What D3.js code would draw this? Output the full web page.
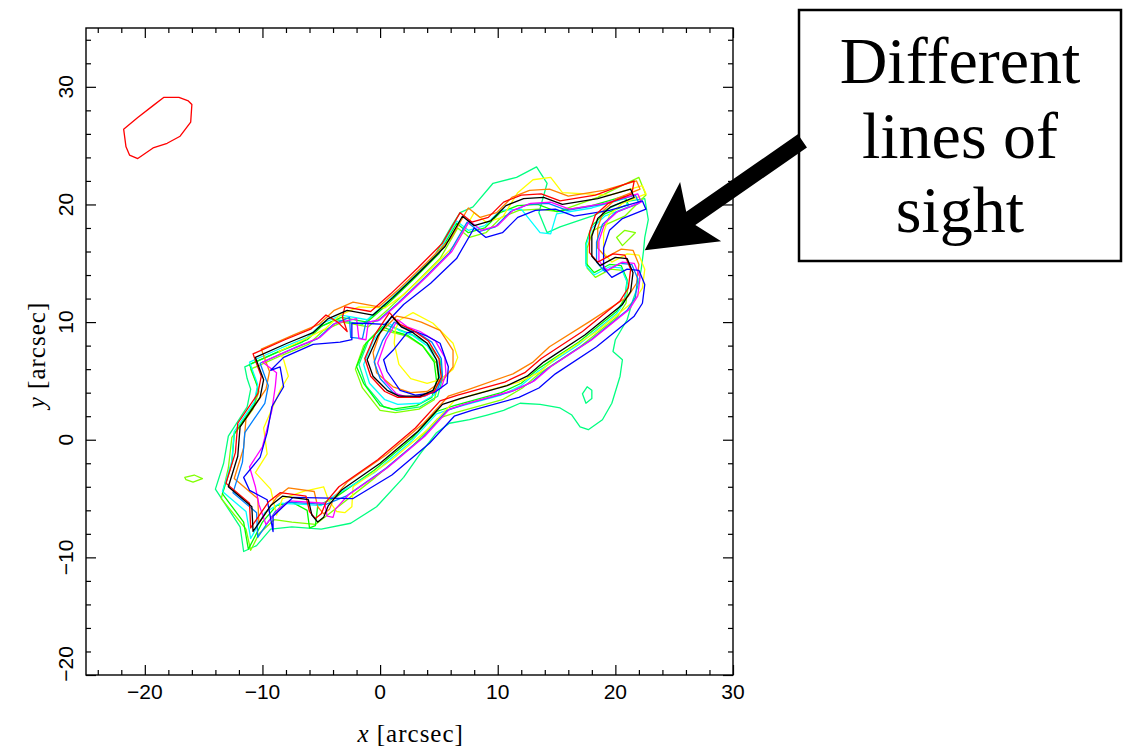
<!DOCTYPE html>
<html>
<head>
<meta charset="utf-8">
<script src="https://cdn.jsdelivr.net/npm/d3@7"></script>
<style>
  body { margin: 0; background: #fff; }
  svg { display: block; }
</style>
</head>
<body>
<svg id="chart" width="1127" height="746"></svg>
<script>
// axis ticks (arcsec)
const xMajorTicks = [-20, -10, 0, 10, 20, 30];
const yMajorTicks = [-20, -10, 0, 10, 20, 30];
const xMinorTicks = [-24, -22, -18, -16, -14, -12, -8, -6, -4, -2, 2, 4, 6, 8, 12, 14, 16, 18, 22, 24, 26, 28];
const yMinorTicks = [-18, -16, -14, -12, -8, -6, -4, -2, 2, 4, 6, 8, 12, 14, 16, 18, 22, 24, 26, 28, 32, 34];

// contours, one per line of sight: [x, y] in arcsec
const blackMain = [[-10.6,7.0],[-7.9,8.2],[-5.7,9.1],[-4.4,10.3],[-2.8,11.0],[-0.6,10.6],[1.1,12.1],[3.4,14.3],[5.5,16.4],[7.0,19.0],[8.0,18.2],[9.4,18.6],[10.7,19.9],[12.2,20.5],[13.9,20.6],[15.5,20.0],[18.5,20.5],[21.3,21.3],[21.6,20.6],[19.6,19.8],[18.5,18.8],[18.0,17.3],[18.0,15.6],[18.7,14.8],[20.0,15.5],[21.0,15.4],[21.5,14.2],[21.3,12.6],[20.6,11.5],[17.4,8.9],[13.9,6.6],[12.5,5.4],[10.8,4.6],[6.8,3.5],[5.3,3.0],[3.2,0.7],[0.0,-2.0],[-3.3,-4.3],[-4.4,-5.6],[-4.8,-6.6],[-5.3,-7.0],[-5.8,-6.4],[-6.1,-5.1],[-8.3,-4.8],[-9.3,-5.6],[-10.8,-7.8],[-10.9,-5.7],[-12.9,-4.0],[-12.1,-1.4],[-11.9,1.1],[-10.2,3.6],[-9.9,5.1],[-10.2,5.9]];
const blackInner = [[1.0,10.5],[-0.2,8.8],[-1.1,6.8],[-0.6,5.4],[0.6,4.2],[1.6,3.7],[3.4,3.7],[4.5,4.2],[5.0,5.3],[4.8,6.8],[4.0,8.2],[2.8,9.1],[1.8,9.6]];

const redMain = [[-10.8,7.3],[-8.1,8.5],[-5.9,9.4],[-4.6,10.6],[-3.6,10.0],[-2.8,9.2],[-3.2,10.4],[-3.0,11.3],[-0.8,10.9],[0.9,12.4],[3.2,14.6],[5.3,16.7],[6.8,19.3],[7.8,18.5],[9.2,18.9],[10.5,20.2],[12.0,20.8],[13.7,20.9],[15.3,20.3],[18.3,20.8],[21.6,22.0],[21.4,20.9],[19.4,20.1],[18.3,19.1],[17.8,17.6],[17.8,15.9],[18.5,15.1],[19.8,15.8],[20.8,15.7],[21.3,14.5],[21.1,12.9],[20.4,11.8],[17.2,9.2],[13.7,6.9],[12.3,5.7],[10.6,4.9],[6.6,3.8],[5.1,3.3],[3.0,1.0],[-0.2,-1.7],[-3.5,-4.0],[-4.6,-5.3],[-5.0,-6.3],[-5.5,-6.7],[-6.0,-6.1],[-6.3,-4.8],[-8.5,-4.5],[-9.5,-5.3],[-11.0,-7.5],[-11.1,-5.4],[-13.1,-3.7],[-12.3,-1.1],[-12.1,1.4],[-10.4,3.9],[-10.1,5.4],[-10.4,6.2]];
const redInner = [[0.8,10.8],[-0.4,9.0],[-1.3,6.9],[-0.8,5.4],[0.4,4.1],[1.5,3.6],[3.4,3.6],[4.6,4.1],[5.2,5.3],[5.0,6.9],[4.1,8.4],[2.8,9.3],[1.7,9.8]];

const orangeMain = [[-10.1,7.7],[-7.4,8.9],[-5.2,9.8],[-3.9,11.0],[-2.3,11.7],[-0.1,11.3],[1.6,12.8],[3.9,15.0],[6.0,17.1],[7.5,19.7],[8.5,18.9],[9.9,19.3],[11.2,20.6],[12.7,21.2],[14.4,21.3],[16.0,20.7],[19.0,21.2],[21.8,22.0],[22.1,21.3],[20.1,20.5],[19.0,19.5],[18.5,18.0],[18.5,16.3],[19.2,15.5],[20.5,16.2],[21.5,16.1],[22.0,14.9],[21.8,13.3],[21.1,12.2],[17.9,10.1],[14.4,7.9],[13.0,6.6],[11.3,5.6],[7.3,4.2],[5.8,3.7],[3.7,1.4],[0.5,-1.3],[-2.8,-3.6],[-3.9,-4.9],[-4.3,-5.9],[-4.8,-6.3],[-5.3,-5.7],[-5.6,-4.4],[-7.8,-4.1],[-8.8,-4.9],[-10.3,-7.1],[-10.4,-5.0],[-12.4,-3.3],[-11.6,-0.7],[-11.4,1.8],[-9.7,4.3],[-9.4,5.8],[-9.7,6.6]];
const orangeInner = [[1.4,10.5],[0.0,9.1],[-0.6,7.4],[-0.3,5.7],[1.1,4.5],[2.6,4.0],[4.0,4.1],[5.4,5.1],[6.2,6.2],[6.2,7.6],[5.1,9.3],[3.5,10.0],[2.5,10.3]];

const yellowMain = [[-8.6,7.5],[-6.5,8.5],[-4.7,9.4],[-3.4,10.6],[-1.8,11.3],[0.4,11.2],[2.1,12.4],[4.4,14.6],[6.5,16.7],[8.0,19.3],[9.0,18.5],[10.4,18.9],[11.7,21.0],[13.0,22.1],[14.5,22.3],[15.5,21.0],[19.5,20.8],[22.3,21.6],[22.6,20.9],[20.6,20.1],[19.5,19.1],[19.0,17.6],[19.0,15.9],[19.7,15.1],[21.0,15.8],[22.0,15.7],[22.5,14.5],[22.3,12.9],[21.6,11.8],[18.4,9.2],[14.9,6.9],[13.5,5.7],[11.8,4.9],[7.8,3.8],[6.3,3.3],[4.2,1.0],[1.0,-1.7],[-2.3,-4.0],[-2.4,-5.7],[-3.0,-6.2],[-3.7,-6.1],[-4.4,-5.1],[-4.8,-4.0],[-6.5,-4.4],[-8.3,-5.0],[-8.8,-6.4],[-9.3,-4.2],[-10.6,-2.8],[-9.6,-1.2],[-9.9,1.0],[-8.5,4.2],[-7.8,5.4],[-8.2,6.8]];
const yellowInner = [[1.7,10.2],[2.8,10.8],[4.5,9.9],[6.2,8.2],[6.6,7.0],[6.2,6.0],[5.1,5.1],[4.0,4.8],[2.6,5.2],[1.6,6.4],[1.2,8.2],[1.3,9.4]];

const greenMain = [[-11.1,6.4],[-8.4,7.6],[-6.2,8.5],[-4.9,9.7],[-3.3,10.4],[-1.1,10.0],[0.6,11.5],[2.9,13.7],[5.0,15.8],[6.5,18.4],[7.5,17.6],[8.9,18.0],[10.2,19.3],[11.7,19.9],[13.4,20.0],[15.0,19.4],[18.0,19.9],[20.8,20.7],[21.1,20.0],[19.1,19.2],[18.0,18.2],[17.5,16.7],[17.5,15.0],[18.2,14.2],[19.5,14.9],[20.5,14.8],[21.0,13.6],[20.8,12.0],[20.1,10.9],[16.9,8.3],[13.4,6.0],[12.0,4.8],[10.3,4.0],[6.3,2.9],[4.8,2.4],[2.7,0.1],[-0.5,-2.6],[-3.8,-4.9],[-5.3,-5.6],[-5.5,-7.3],[-6.0,-7.5],[-6.2,-6.0],[-7.5,-5.3],[-8.8,-5.6],[-10.0,-7.0],[-11.2,-9.3],[-11.6,-7.0],[-13.4,-4.6],[-12.6,-2.0],[-12.4,0.5],[-10.7,3.0],[-10.4,4.5],[-10.7,5.3]];
const greenInner = [[0.2,9.6],[-1.2,8.2],[-2.0,6.2],[-1.4,4.8],[0.0,2.9],[1.1,2.6],[3.1,2.9],[4.4,3.6],[4.8,5.0],[4.6,6.6],[3.6,8.0],[2.3,8.9],[1.2,9.2]];

const chartreuseMain = [[-11.0,6.0],[-8.3,7.2],[-6.1,8.1],[-4.8,9.3],[-3.2,10.0],[-1.0,9.6],[0.7,11.1],[3.0,13.3],[5.1,15.4],[6.6,18.0],[7.6,17.2],[9.0,17.6],[10.3,18.9],[11.8,19.5],[13.5,19.6],[15.1,19.4],[18.5,20.6],[22.0,22.3],[22.6,20.8],[20.8,19.0],[18.1,17.8],[17.6,16.3],[17.6,14.6],[18.3,13.8],[19.6,14.5],[20.6,14.4],[21.1,13.2],[20.9,11.6],[20.2,10.5],[17.0,7.9],[13.5,5.6],[12.1,4.4],[10.4,3.4],[6.4,2.3],[4.9,1.8],[2.8,-0.5],[-0.4,-3.2],[-3.7,-5.8],[-5.5,-7.2],[-7.5,-7.0],[-9.0,-6.8],[-10.3,-8.0],[-11.0,-9.4],[-11.4,-7.6],[-13.5,-5.0],[-12.9,-2.4],[-12.6,0.2],[-10.8,2.6],[-10.3,4.1],[-10.6,5.0]];
const chartreuseInner = [[0.0,9.4],[-1.4,8.0],[-2.1,6.0],[-1.5,4.4],[0.0,2.5],[1.3,2.3],[3.3,2.6],[4.6,3.4],[5.0,4.9],[4.8,6.5],[3.7,7.9],[2.3,8.8],[1.1,9.1]];
const chartreuseHook = [[20.1,17.2],[20.8,17.8],[21.7,17.6],[20.6,16.5]];
const chartreuseSpeck = [[-16.6,-3.2],[-15.8,-3.0],[-15.1,-3.3],[-15.9,-3.6],[-16.5,-3.4]];

const springMain = [[-11.5,6.2],[-8.8,7.4],[-6.6,8.3],[-5.3,9.5],[-3.7,10.2],[-1.5,9.8],[0.2,11.3],[2.5,13.5],[4.6,15.6],[6.1,18.2],[6.8,19.3],[7.9,19.8],[9.6,21.8],[11.6,22.3],[13.3,23.2],[14.2,21.8],[13.5,19.3],[14.2,17.6],[15.3,18.1],[18.0,19.0],[20.6,20.2],[22.5,20.5],[22.8,18.7],[22.5,17.2],[22.4,16.1],[22.2,14.5],[21.9,13.0],[21.5,11.9],[21.0,10.2],[20.0,8.5],[19.8,7.5],[20.6,6.8],[20.4,5.4],[19.7,3.1],[18.9,1.7],[17.7,0.85],[17.0,1.1],[16.3,2.1],[15.3,2.7],[13.6,3.0],[11.9,3.1],[10.5,2.5],[9.1,2.1],[7.6,1.7],[5.9,1.4],[4.8,0.6],[3.4,-1.2],[2.0,-3.2],[-0.3,-5.7],[-2.5,-7.1],[-5.0,-7.6],[-7.5,-7.4],[-9.3,-7.6],[-10.5,-9.0],[-11.6,-9.5],[-11.9,-7.4],[-14.0,-4.2],[-13.3,-2.0],[-12.9,0.3],[-11.3,2.8],[-11.0,4.3],[-11.3,5.2]];
const springInner = [[0.4,9.8],[-1.0,8.4],[-1.8,6.4],[-1.2,4.6],[0.3,2.8],[1.4,2.5],[3.4,2.8],[4.9,3.7],[5.3,5.2],[5.1,6.8],[4.0,8.2],[2.6,9.0],[1.5,9.4]];
const springRing = [[17.6,4.5],[17.2,3.9],[17.5,3.1],[18.0,3.5],[18.0,4.2]];

const cyanMain = [[-11.1,6.6],[-8.4,7.8],[-6.2,8.7],[-4.9,9.9],[-3.3,10.6],[-1.1,10.2],[0.6,11.7],[2.9,13.9],[5.0,16.0],[6.5,18.6],[7.5,17.8],[8.9,18.2],[10.2,19.5],[12.0,19.6],[13.6,17.6],[14.5,17.5],[15.0,19.2],[18.0,19.7],[20.8,20.5],[21.1,19.8],[19.1,19.0],[18.0,18.0],[17.5,16.5],[17.5,14.8],[18.2,14.0],[19.5,14.7],[20.5,14.6],[21.0,13.4],[20.8,11.8],[20.1,10.7],[16.9,8.1],[13.4,5.8],[12.0,4.6],[10.3,3.8],[6.3,2.7],[4.8,2.2],[2.7,-0.1],[-0.5,-2.8],[-3.8,-4.7],[-5.0,-5.6],[-6.5,-5.5],[-8.5,-5.4],[-9.8,-6.2],[-11.0,-8.4],[-11.4,-6.1],[-13.4,-4.4],[-12.6,-1.8],[-12.4,0.7],[-10.7,3.2],[-10.4,4.7],[-10.7,5.5]];
const cyanInner = [[0.6,10.0],[-0.6,8.4],[-1.4,6.4],[-0.9,4.8],[0.4,3.4],[1.5,3.0],[3.4,3.1],[4.6,3.8],[5.1,5.0],[4.9,6.6],[4.0,8.0],[2.7,8.9],[1.6,9.3]];

const azureMain = [[-10.2,6.5],[-7.5,7.7],[-5.3,8.6],[-4.0,9.8],[-2.6,10.4],[-2.5,8.7],[-1.5,8.6],[-1.2,10.0],[-0.2,10.1],[1.5,11.6],[3.8,13.8],[5.9,15.9],[7.4,18.5],[8.4,17.7],[9.8,18.1],[11.1,19.4],[12.6,20.0],[14.3,20.1],[15.9,19.5],[18.9,20.0],[21.7,20.8],[22.0,20.1],[20.0,19.3],[18.9,18.3],[18.4,16.8],[18.4,15.1],[19.1,14.3],[20.4,15.0],[21.4,14.9],[21.9,13.7],[21.7,12.1],[21.0,11.0],[17.8,8.4],[14.3,6.1],[12.9,4.9],[11.2,4.1],[7.2,3.0],[5.7,2.5],[3.6,0.2],[0.4,-2.5],[-2.9,-4.8],[-4.6,-5.5],[-7.9,-5.3],[-8.9,-6.1],[-10.4,-8.3],[-10.5,-6.2],[-12.5,-4.5],[-11.7,-1.9],[-11.5,0.6],[-9.8,3.1],[-9.5,4.6],[-9.8,5.4]];
const azureInner = [[1.2,10.0],[0.2,8.4],[-0.5,6.6],[0.0,5.2],[1.1,4.0],[2.1,3.6],[3.8,3.7],[4.9,4.3],[5.3,5.4],[5.2,6.9],[4.4,8.3],[3.2,9.1],[2.1,9.5]];

const magentaMain = [[-10.0,6.6],[-7.3,7.8],[-5.1,8.7],[-3.8,9.9],[-2.0,10.3],[-1.8,8.6],[-1.2,8.5],[-1.0,10.0],[0.0,10.2],[1.7,11.7],[4.0,13.9],[6.1,16.0],[7.6,18.6],[8.6,17.8],[10.0,18.2],[11.3,19.5],[12.8,20.1],[14.5,20.2],[16.1,19.6],[19.1,20.1],[21.9,20.9],[22.2,20.2],[20.2,19.4],[19.1,18.4],[18.6,16.9],[18.6,15.2],[19.3,14.4],[20.6,15.1],[21.6,15.0],[22.1,13.8],[21.9,12.2],[21.2,11.1],[18.0,8.5],[14.5,6.2],[13.1,5.0],[11.4,4.2],[7.4,3.1],[5.9,2.6],[3.8,0.3],[0.6,-2.4],[-2.7,-4.7],[-3.8,-5.9],[-4.0,-6.6],[-4.5,-6.5],[-4.7,-5.4],[-7.7,-5.2],[-8.7,-6.0],[-9.7,-7.2],[-10.3,-5.5],[-10.6,-4.0],[-11.1,-2.3],[-10.0,-0.6],[-9.2,2.5],[-8.9,4.6],[-8.8,5.7]];
const magentaInner = [[1.5,10.2],[0.5,8.5],[-0.2,6.5],[0.4,5.0],[1.4,3.9],[2.4,3.6],[4.0,3.8],[5.2,4.4],[5.6,5.6],[5.5,7.0],[4.7,8.4],[3.4,9.2],[2.3,9.6]];

const blueMain = [[-9.3,5.9],[-8.2,7.0],[-5.7,8.1],[-3.4,8.3],[-2.4,8.5],[-2.4,9.9],[-1.4,9.9],[0.4,9.8],[2.0,11.5],[4.3,13.3],[6.5,15.4],[8.0,18.0],[9.0,17.2],[10.4,17.6],[11.7,18.9],[13.2,19.5],[14.9,19.6],[16.5,19.0],[19.5,19.5],[22.3,20.3],[22.6,19.6],[20.6,18.8],[19.5,17.8],[19.0,16.3],[19.0,14.6],[19.7,13.8],[21.0,14.5],[22.0,14.4],[22.5,13.2],[22.3,11.6],[21.6,10.5],[18.4,7.9],[14.9,5.6],[13.5,4.4],[11.8,3.6],[7.8,2.5],[6.3,2.0],[4.2,-0.3],[1.0,-3.0],[-2.3,-5.0],[-7.4,-4.9],[-9.1,-6.5],[-9.1,-7.8],[-9.6,-5.1],[-11.1,-4.3],[-11.6,-3.2],[-10.2,-1.5],[-9.6,0.6],[-9.2,2.8],[-8.2,4.5],[-8.5,6.2]];
const blueInner = [[2.3,9.1],[1.1,7.6],[0.3,6.8],[0.6,5.8],[1.7,4.2],[3.0,3.8],[4.6,4.0],[5.7,4.8],[5.8,6.2],[5.1,8.2],[4.0,8.8],[3.0,9.2]];

// separate blob in the upper left
const redBlob = [[-21.8,26.4],[-20.6,27.4],[-19.3,28.4],[-18.4,29.1],[-17.1,29.1],[-16.3,28.8],[-16.0,28.5],[-16.1,27.0],[-17.0,25.8],[-18.1,25.2],[-19.3,24.8],[-20.6,23.9],[-21.3,24.2],[-21.6,24.9]];

// annotation
const noteLines = ["Different", "lines of", "sight"];
const arrowTail = [35.9, 25.4];
const arrowTip = [22.5, 16.1];

const sightlines = [
  {key: "spring",     rings: [springMain, springInner, springRing]},
  {key: "chartreuse", rings: [chartreuseMain, chartreuseInner, chartreuseHook, chartreuseSpeck]},
  {key: "green",      rings: [greenMain, greenInner]},
  {key: "cyan",       rings: [cyanMain, cyanInner]},
  {key: "yellow",     rings: [yellowMain, yellowInner]},
  {key: "orange",     rings: [orangeMain, orangeInner]},
  {key: "azure",      rings: [azureMain, azureInner]},
  {key: "magenta",    rings: [magentaMain, magentaInner]},
  {key: "blue",       rings: [blueMain, blueInner]},
  {key: "red",        rings: [redMain, redInner, redBlob]},
  {key: "black",      rings: [blackMain, blackInner]},
];

const colour = {
  spring: "#00ff80", chartreuse: "#80ff00", green: "#00ff00", cyan: "#00ffff",
  yellow: "#ffff00", orange: "#ff8000", azure: "#0080ff", magenta: "#ff00ff",
  blue: "#0000ff", red: "#ff0000", black: "#000000"
};

const svg = d3.select("#chart");
const plot = {left: 86, top: 28, right: 733, bottom: 675};

const x = d3.scaleLinear().domain([-25, 30]).range([plot.left, plot.right]);
const y = d3.scaleLinear().domain([-20, 35]).range([plot.bottom, plot.top]);

const clip = svg.append("defs").append("clipPath").attr("id", "frame-clip");
clip.append("rect")
  .attr("x", plot.left).attr("y", plot.top)
  .attr("width", plot.right - plot.left).attr("height", plot.bottom - plot.top);

// contours
const ring = d3.line().x(d => x(d[0])).y(d => y(d[1])).curve(d3.curveLinearClosed);
const g = svg.append("g").attr("clip-path", "url(#frame-clip)");
sightlines.forEach(s => {
  g.selectAll(null).data(s.rings).join("path")
    .attr("d", ring)
    .attr("fill", "none")
    .attr("stroke", colour[s.key])
    .attr("stroke-width", 1.3)
    .attr("stroke-linejoin", "round");
});

// axes: ticks point inwards on all four sides
function tickAxis(axisFn, scale, values, size, shift) {
  const a = axisFn(scale).tickValues(values).tickSize(size).tickFormat("");
  const sel = svg.append("g").attr("transform", shift).call(a);
  sel.select(".domain").remove();
  sel.selectAll(".tick line").attr("stroke", "#000").attr("stroke-width", 1.2);
  return sel;
}
tickAxis(d3.axisBottom, x, xMajorTicks, -10, `translate(0,${plot.bottom})`);
tickAxis(d3.axisBottom, x, xMinorTicks, -5, `translate(0,${plot.bottom})`);
tickAxis(d3.axisTop, x, xMajorTicks, -10, `translate(0,${plot.top})`);
tickAxis(d3.axisTop, x, xMinorTicks, -5, `translate(0,${plot.top})`);
tickAxis(d3.axisLeft, y, yMajorTicks, -10, `translate(${plot.left},0)`);
tickAxis(d3.axisLeft, y, yMinorTicks, -5, `translate(${plot.left},0)`);
tickAxis(d3.axisRight, y, yMajorTicks, -10, `translate(${plot.right},0)`);
tickAxis(d3.axisRight, y, yMinorTicks, -5, `translate(${plot.right},0)`);

svg.append("rect")
  .attr("x", plot.left).attr("y", plot.top)
  .attr("width", plot.right - plot.left).attr("height", plot.bottom - plot.top)
  .attr("fill", "none").attr("stroke", "#000").attr("stroke-width", 1.4);

const fmt = d3.format("d");
const tickFont = "'Liberation Sans', Arial, sans-serif";

svg.append("g").selectAll("text").data(xMajorTicks).join("text")
  .attr("x", d => x(d)).attr("y", plot.bottom + 24)
  .attr("text-anchor", "middle")
  .attr("font-family", tickFont).attr("font-size", 21)
  .text(d => fmt(d));

// the lowest y label sits a little above its tick so it clears the corner
svg.append("g").selectAll("text").data(yMajorTicks).join("text")
  .attr("transform", d => `translate(${plot.left - 13},${y(d) - (d === -20 ? 11 : 0)}) rotate(-90)`)
  .attr("text-anchor", "middle")
  .attr("font-family", tickFont).attr("font-size", 21)
  .text(d => fmt(d));

const titleFont = "'Liberation Serif', 'Times New Roman', serif";
const xTitle = svg.append("text")
  .attr("x", x(2.6)).attr("y", 742)
  .attr("text-anchor", "middle")
  .attr("font-family", titleFont).attr("font-size", 25)
  .attr("letter-spacing", 1);
xTitle.append("tspan").attr("font-style", "italic").text("x");
xTitle.append("tspan").text(" [arcsec]");

const yTitle = svg.append("text")
  .attr("transform", `translate(45,${y(7.2)}) rotate(-90)`)
  .attr("text-anchor", "middle")
  .attr("font-family", titleFont).attr("font-size", 25)
  .attr("letter-spacing", 1);
yTitle.append("tspan").attr("font-style", "italic").text("y");
yTitle.append("tspan").text(" [arcsec]");

// callout box
const box = {x: 799, y: 10, w: 322, h: 251};
svg.append("rect")
  .attr("x", box.x).attr("y", box.y).attr("width", box.w).attr("height", box.h)
  .attr("fill", "#fff").attr("stroke", "#000").attr("stroke-width", 2.5);
svg.append("g").selectAll("text").data(noteLines).join("text")
  .attr("x", box.x + box.w / 2)
  .attr("y", (d, i) => 83 + i * 74.5)
  .attr("text-anchor", "middle")
  .attr("font-family", titleFont).attr("font-size", 66)
  .text(d => d);

// arrow from the box to the contours
const tail = [x(arrowTail[0]), y(arrowTail[1])];
const tip = [x(arrowTip[0]), y(arrowTip[1])];
const len = Math.hypot(tip[0] - tail[0], tip[1] - tail[1]);
const ux = (tip[0] - tail[0]) / len, uy = (tip[1] - tail[1]) / len;
const px = -uy, py = ux;
const headLen = 68, headHalf = 36, shaftHalf = 8, notch = 12;
const baseP = [tip[0] - ux * headLen, tip[1] - uy * headLen];
const neck = [tip[0] - ux * (headLen - notch), tip[1] - uy * (headLen - notch)];
const arrowPts = [
  [tail[0] + px * shaftHalf, tail[1] + py * shaftHalf],
  [neck[0] + px * shaftHalf, neck[1] + py * shaftHalf],
  [baseP[0] + px * headHalf, baseP[1] + py * headHalf],
  tip,
  [baseP[0] - px * headHalf, baseP[1] - py * headHalf],
  [neck[0] - px * shaftHalf, neck[1] - py * shaftHalf],
  [tail[0] - px * shaftHalf, tail[1] - py * shaftHalf]
];
svg.append("path")
  .attr("d", "M" + arrowPts.map(p => p.join(",")).join("L") + "Z")
  .attr("fill", "#000");
</script>
</body>
</html>
